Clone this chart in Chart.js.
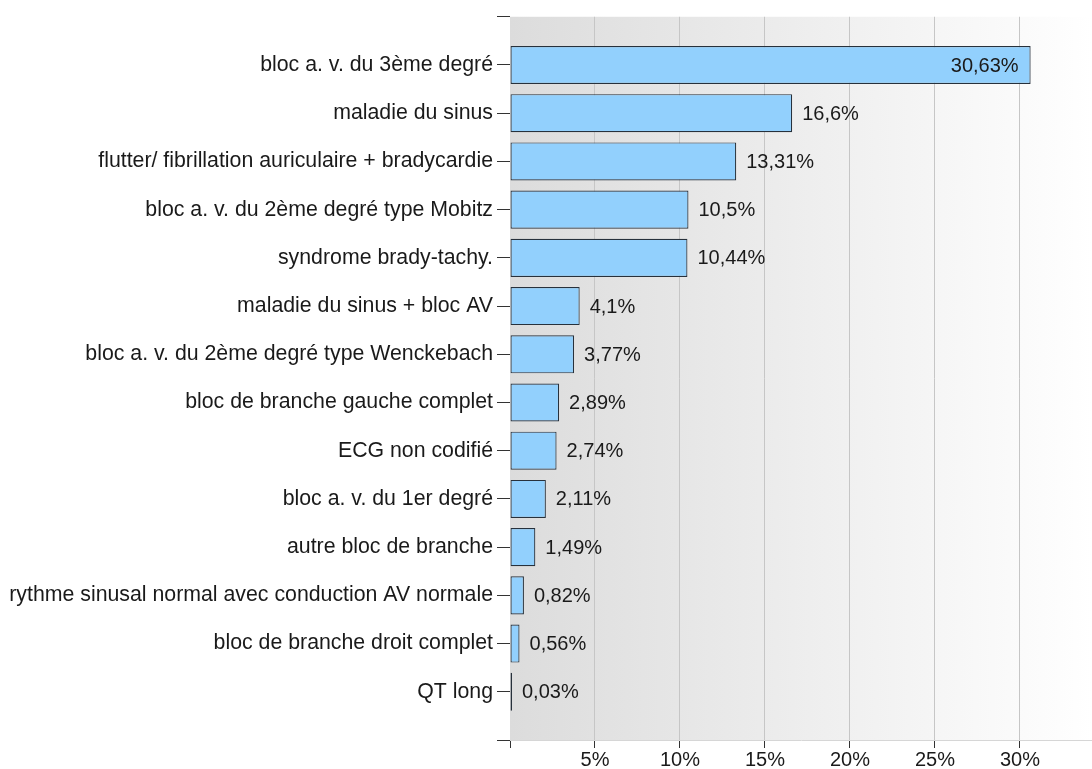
<!DOCTYPE html>
<html>
<head>
<meta charset="utf-8">
<script src="https://cdn.jsdelivr.net/npm/chart.js@4/dist/chart.umd.min.js"></script>
<style>
  html, body { margin: 0; padding: 0; background: #ffffff; }
  #wrap { width: 1092px; height: 769px; }
</style>
</head>
<body>
<div id="wrap"><canvas id="c" width="1092" height="769"></canvas></div>
<script>
const categories = [
  "bloc a. v. du 3ème degré",
  "maladie du sinus",
  "flutter/ fibrillation auriculaire + bradycardie",
  "bloc a. v. du 2ème degré type Mobitz",
  "syndrome brady-tachy.",
  "maladie du sinus + bloc AV",
  "bloc a. v. du 2ème degré type Wenckebach",
  "bloc de branche gauche complet",
  "ECG non codifié",
  "bloc a. v. du 1er degré",
  "autre bloc de branche",
  "rythme sinusal normal avec conduction AV normale",
  "bloc de branche droit complet",
  "QT long"
];
const values = [30.63, 16.6, 13.31, 10.5, 10.44, 4.1, 3.77, 2.89, 2.74, 2.11, 1.49, 0.82, 0.56, 0.03];
const xTickValues = [0, 5, 10, 15, 20, 25, 30];

const FONT = "'Liberation Sans', Arial, sans-serif";
const TEXT = '#1a1a1a';

const fmt = v => String(v).replace('.', ',') + '%';

const bgPlugin = {
  id: 'bgGradient',
  beforeDraw(chart) {
    const { ctx, chartArea: a } = chart;
    const g = ctx.createLinearGradient(a.left, 0, a.right, 0);
    g.addColorStop(0, '#dcdcdc');
    g.addColorStop(1, '#ffffff');
    ctx.save();
    ctx.fillStyle = g;
    ctx.fillRect(a.left, a.top, a.right - a.left, a.bottom - a.top);
    ctx.restore();
  }
};

const labelPlugin = {
  id: 'valueLabels',
  afterDatasetsDraw(chart) {
    const { ctx, chartArea: a } = chart;
    const meta = chart.getDatasetMeta(0);
    ctx.save();
    ctx.font = '20px ' + FONT;
    ctx.fillStyle = TEXT;
    ctx.textBaseline = 'middle';
    meta.data.forEach((bar, i) => {
      const txt = fmt(values[i]);
      const w = ctx.measureText(txt).width;
      if (bar.x + 10 + w > a.right) {
        ctx.textAlign = 'right';
        ctx.fillText(txt, bar.x - 12, bar.y + 1);
      } else {
        ctx.textAlign = 'left';
        ctx.fillText(txt, bar.x + 10, bar.y + 1);
      }
    });
    ctx.restore();
  }
};

new Chart(document.getElementById('c'), {
  type: 'bar',
  data: {
    datasets: [{
      data: values.map((v, i) => ({ x: v, y: i })),
      backgroundColor: '#92d0fd',
      borderColor: '#27313c',
      borderWidth: 1.2,
      borderSkipped: false,
      minBarLength: 2,
      categoryPercentage: 1,
      barPercentage: 0.79
    }]
  },
  options: {
    indexAxis: 'y',
    responsive: false,
    animation: false,
    layout: { padding: { top: 14, right: 0, left: 0, bottom: 0 } },
    plugins: { legend: { display: false }, tooltip: { enabled: false } },
    scales: {
      x: {
        type: 'linear',
        min: 0,
        max: 34.24,
        afterBuildTicks(scale) { scale.ticks = xTickValues.map(v => ({ value: v })); },
        afterFit(scale) { scale.height = 29; },
        grid: {
          color: c => (c.tick && c.tick.value === 0) ? 'rgba(0,0,0,0)' : '#c6c6c6',
          tickColor: '#333333',
          tickLength: 8,
          lineWidth: 1
        },
        border: { display: true, color: '#d6d6d6', width: 1 },
        ticks: {
          autoSkip: false,
          maxRotation: 0,
          padding: 0,
          color: TEXT,
          font: { family: FONT, size: 20 },
          callback: v => v === 0 ? '' : v + '%'
        }
      },
      y: {
        type: 'linear',
        reverse: true,
        offset: false,
        min: -1,
        max: categories.length,
        afterBuildTicks(scale) {
          const t = [];
          for (let i = -1; i <= categories.length; i++) t.push({ value: i });
          scale.ticks = t;
        },
        afterFit(scale) { scale.width = 510; },
        grid: {
          offset: false,
          drawOnChartArea: false,
          tickColor: '#333333',
          tickLength: 13,
          lineWidth: 1
        },
        border: { display: false },
        ticks: {
          autoSkip: false,
          padding: 4,
          color: TEXT,
          font: { family: FONT, size: 21.3 },
          callback: v => categories[v] !== undefined ? categories[v] : ''
        }
      }
    }
  },
  plugins: [bgPlugin, labelPlugin]
});
</script>
</body>
</html>
